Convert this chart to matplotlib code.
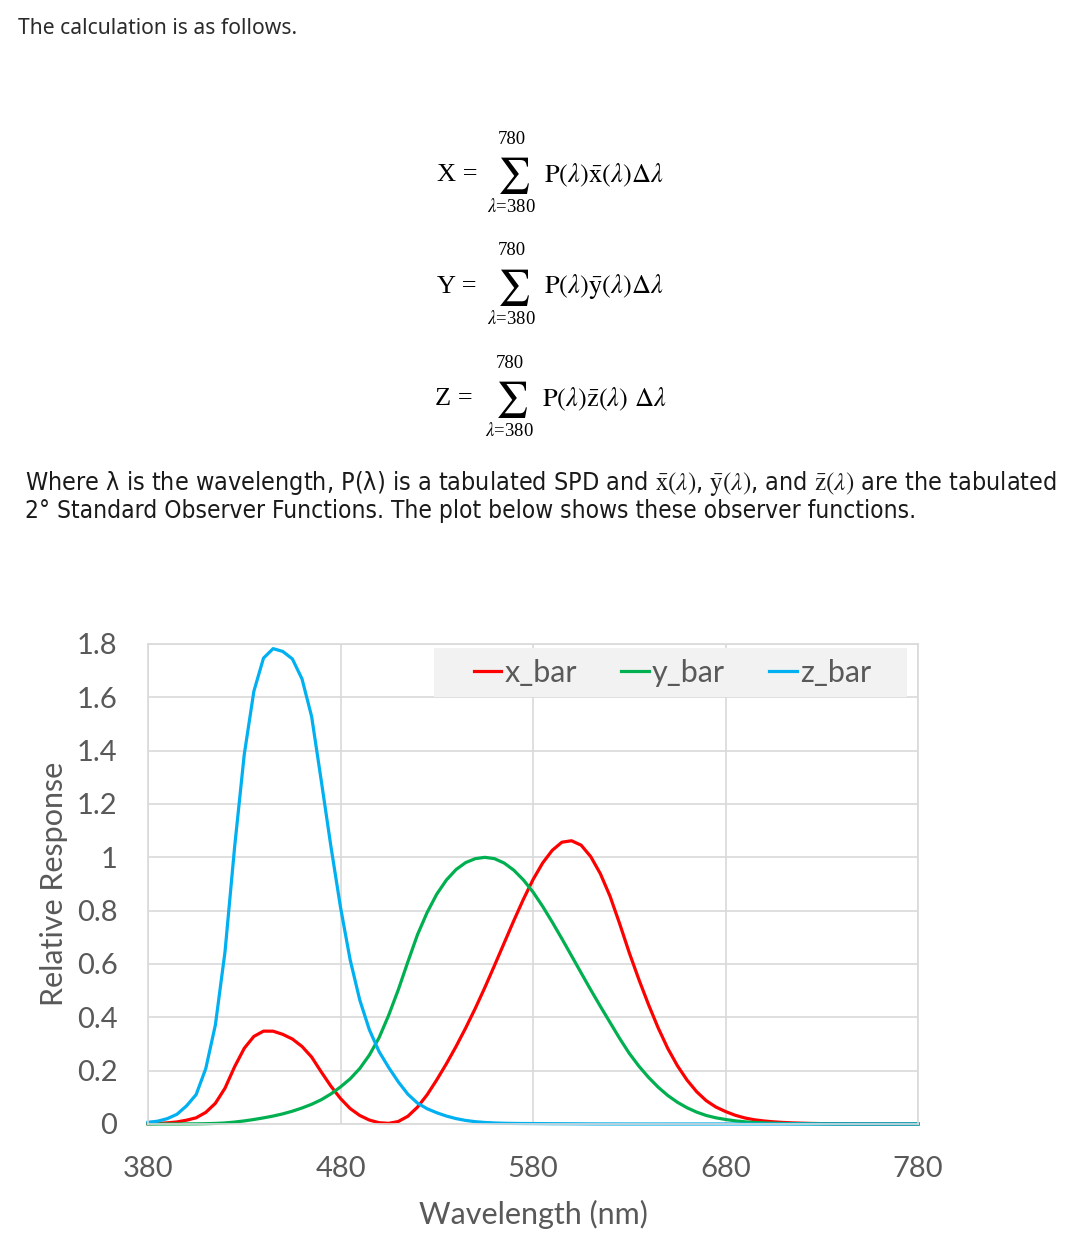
import matplotlib
matplotlib.use('Agg')
import matplotlib.pyplot as plt
import numpy as np
from matplotlib.patches import Rectangle

# CIE 1931 2 degree standard observer, 5 nm steps
wavelength = np.arange(380, 781, 5)
x_bar = [0.001368, 0.002236, 0.004243, 0.007650, 0.014310, 0.023190, 0.043510, 0.077630, 0.134380, 0.214770,
         0.283900, 0.328500, 0.348280, 0.348060, 0.336200, 0.318700, 0.290800, 0.251100, 0.195360, 0.142100,
         0.095640, 0.057950, 0.032010, 0.014700, 0.004900, 0.002400, 0.009300, 0.029100, 0.063270, 0.109600,
         0.165500, 0.225750, 0.290400, 0.359700, 0.433450, 0.512050, 0.594500, 0.678400, 0.762100, 0.842500,
         0.916300, 0.978600, 1.026300, 1.056700, 1.062200, 1.045600, 1.002600, 0.938400, 0.854450, 0.751400,
         0.642400, 0.541900, 0.447900, 0.360800, 0.283500, 0.218700, 0.164900, 0.121200, 0.087400, 0.063600,
         0.046770, 0.032900, 0.022700, 0.015840, 0.011359, 0.008111, 0.005790, 0.004109, 0.002899, 0.002049,
         0.001440, 0.001000, 0.000690, 0.000476, 0.000332, 0.000235, 0.000166, 0.000117, 0.000083, 0.000059,
         0.000042]
y_bar = [0.000039, 0.000064, 0.000120, 0.000217, 0.000396, 0.000640, 0.001210, 0.002180, 0.004000, 0.007300,
         0.011600, 0.016840, 0.023000, 0.029800, 0.038000, 0.048000, 0.060000, 0.073900, 0.090980, 0.112600,
         0.139020, 0.169300, 0.208020, 0.258600, 0.323000, 0.407300, 0.503000, 0.608200, 0.710000, 0.793200,
         0.862000, 0.914850, 0.954000, 0.980300, 0.994950, 1.000000, 0.995000, 0.978600, 0.952000, 0.915400,
         0.870000, 0.816300, 0.757000, 0.694900, 0.631000, 0.566800, 0.503000, 0.441200, 0.381000, 0.321000,
         0.265000, 0.217000, 0.175000, 0.138200, 0.107000, 0.081600, 0.061000, 0.044580, 0.032000, 0.023200,
         0.017000, 0.011920, 0.008210, 0.005723, 0.004102, 0.002929, 0.002091, 0.001484, 0.001047, 0.000740,
         0.000520, 0.000361, 0.000249, 0.000172, 0.000120, 0.000085, 0.000060, 0.000042, 0.000030, 0.000021,
         0.000015]
z_bar = [0.006450, 0.010550, 0.020050, 0.036210, 0.067850, 0.110200, 0.207400, 0.371300, 0.645600, 1.039050,
         1.385600, 1.622960, 1.747060, 1.782600, 1.772110, 1.744100, 1.669200, 1.528100, 1.287640, 1.041900,
         0.812950, 0.616200, 0.465180, 0.353300, 0.272000, 0.212300, 0.158200, 0.111700, 0.078250, 0.057250,
         0.042160, 0.029840, 0.020300, 0.013400, 0.008750, 0.005750, 0.003900, 0.002750, 0.002100, 0.001800,
         0.001650, 0.001400, 0.001100, 0.001000, 0.000800, 0.000600, 0.000340, 0.000240, 0.000190, 0.000100,
         0.000050, 0.000030, 0.000020, 0.000010, 0, 0, 0, 0, 0, 0,
         0, 0, 0, 0, 0, 0, 0, 0, 0, 0,
         0, 0, 0, 0, 0, 0, 0, 0, 0, 0,
         0]

x_ticks = [380, 480, 580, 680, 780]
y_ticks = [0, 0.2, 0.4, 0.6, 0.8, 1.0, 1.2, 1.4, 1.6, 1.8]
y_labels = ['0', '0.2', '0.4', '0.6', '0.8', '1', '1.2', '1.4', '1.6', '1.8']

W, H = 1080, 1245
plt.rcParams['mathtext.fontset'] = 'stix'

fig = plt.figure(figsize=(W / 100, H / 100), dpi=100)

def fx(px):
    return px / W

def fy(py):
    return 1 - py / H

# text above the chart
fig.text(fx(18), fy(29), 'The calculation is as follows.', family='Noto Sans',
         fontsize=15.2, color='#2b2b2b', va='center', ha='left')

eq_rows = [('X', r'$\mathrm{P}(\lambda)\bar{\mathrm{x}}(\lambda)\Delta\lambda$', 175, 0),
           ('Y', r'$\mathrm{P}(\lambda)\bar{\mathrm{y}}(\lambda)\Delta\lambda$', 287, 0),
           ('Z', r'$\mathrm{P}(\lambda)\bar{\mathrm{z}}(\lambda)\ \Delta\lambda$', 399, -2)]
for name, body, yc, dx in eq_rows:
    fig.text(fx(437 + dx), fy(yc), name + ' =', family='Liberation Serif', fontsize=19,
             va='center', ha='left', color='black')
    fig.text(fx(513 + dx), fy(yc + 1), r'$\sum$', fontsize=26, va='center', ha='center')
    fig.text(fx(512 + dx), fy(yc - 36), '780', family='Liberation Serif', fontsize=13.5,
             va='center', ha='center')
    fig.text(fx(511 + dx), fy(yc + 32), r'$\lambda$=380', family='Liberation Serif', fontsize=13.5,
             va='center', ha='center')
    fig.text(fx(544 + dx), fy(yc), body, fontsize=19, va='center', ha='left')

para_kw = dict(family='DejaVu Sans', fontstretch='condensed', color='#1a1a1a',
               va='center', ha='left')
fig.text(fx(25), fy(483), r'Where λ is the wavelength, P(λ) is a tabulated SPD and '
         r'$\bar{\mathrm{x}}(\lambda)$, $\bar{\mathrm{y}}(\lambda)$, and $\bar{\mathrm{z}}(\lambda)$'
         r' are the tabulated', fontsize=18, **para_kw)
fig.text(fx(25), fy(511), '2° Standard Observer Functions. The plot below shows these observer functions.',
         fontsize=17.6, **para_kw)

# chart
ax = fig.add_axes([fx(148), 121 / H, 770 / W, 480 / H])
ax.plot(wavelength, x_bar, color='#ff0000', lw=2.3, label='x_bar', clip_on=False)
ax.plot(wavelength, y_bar, color='#00b050', lw=2.3, label='y_bar', clip_on=False)
ax.plot(wavelength, z_bar, color='#00b0f0', lw=2.3, label='z_bar', clip_on=False)

ax.set_xlim(380, 780)
ax.set_ylim(0, 1.8)
ax.set_xticks(x_ticks)
ax.set_yticks(y_ticks, y_labels)
ax.grid(True, color='#d9d9d9', lw=1.2)
ax.set_axisbelow(True)
for s in ax.spines.values():
    s.set_color('#d9d9d9')
    s.set_linewidth(1.2)
for lab in ax.get_xticklabels() + ax.get_yticklabels():
    lab.set_family('Lato')
ax.tick_params(axis='both', length=0, labelsize=21, labelcolor='#595959')
ax.tick_params(axis='y', pad=22)
ax.tick_params(axis='x', pad=23)
ax.set_xlabel('Wavelength (nm)', family='Lato', fontsize=22, color='#595959', labelpad=13)
ax.set_ylabel('Relative Response', family='Lato', fontsize=22, color='#595959', labelpad=6)

ax.add_patch(Rectangle((0.3714, 0.8896), 0.6143, 0.1021, transform=ax.transAxes,
                       facecolor='#f2f2f2', edgecolor='none', zorder=2.5))
ax.legend(loc='center', bbox_to_anchor=(0.681, 0.94), ncol=3, frameon=False,
          prop={'family': 'Lato', 'size': 22}, labelcolor='#595959',
          handlelength=0.9, handletextpad=0.1, columnspacing=1.45)

fig.savefig('out.png', dpi=100)
